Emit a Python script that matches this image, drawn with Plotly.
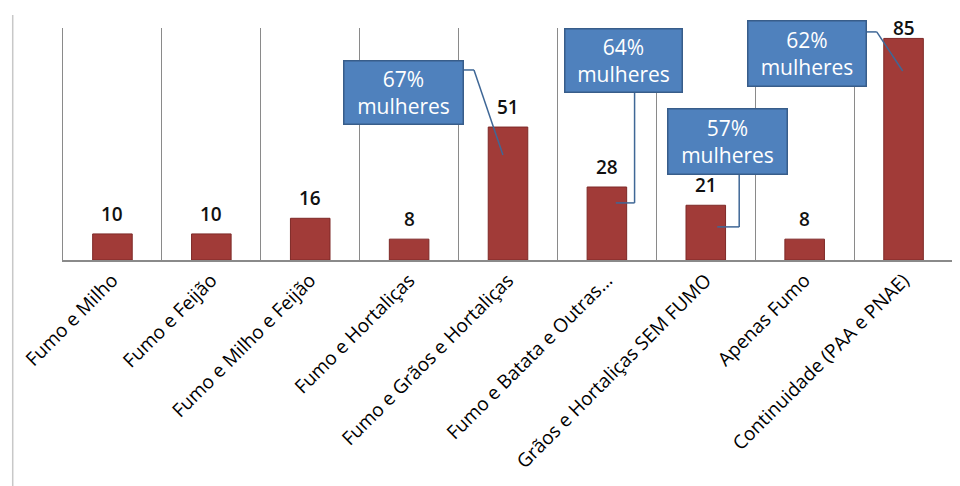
import plotly.graph_objects as go

categories = [
    "Fumo e Milho",
    "Fumo e Feijão",
    "Fumo e Milho e Feijão",
    "Fumo e Hortaliças",
    "Fumo e Grãos e Hortaliças",
    "Fumo e Batata e Outras...",
    "Grãos e Hortaliças SEM FUMO",
    "Apenas Fumo",
    "Continuidade (PAA e PNAE)",
]
values = [10, 10, 16, 8, 51, 28, 21, 8, 85]

# Callouts (data units: category serial number, value)
callout_text = ["67%<br>mulheres", "64%<br>mulheres", "57%<br>mulheres", "62%<br>mulheres"]
callout_box_x = [2.94, 5.17, 6.22, 7.02]
callout_box_y = [64.4, 76.7, 45.6, 79.4]
callout_box_w = [116, 114, 116, 115]
callout_box_h = [60, 60, 62, 62]
callout_leaders = [
    [(3.545, 72.9), (3.656, 72.9), (3.949, 40.3)],
    [(5.28, 64.4), (5.28, 21.9), (5.09, 21.9)],
    [(6.338, 33.0), (6.338, 12.7), (6.116, 12.7)],
    [(7.618, 87.5), (7.729, 87.5), (7.991, 72.5)],
]

FONT = "Open Sans"
GRID = "#8a8a8a"
Y_MAX = 89
PLOT_H = 232  # px

fig = go.Figure()
fig.add_trace(go.Bar(
    x=categories,
    y=values,
    marker=dict(color="#A13B38", line=dict(color="#7E2927", width=1)),
    width=0.4,
    hoverinfo="x+y",
))

annotations = []
px_per_unit = PLOT_H / Y_MAX
for c, v in zip(categories, values):
    headroom = (Y_MAX - v) * px_per_unit
    shift = min(5, headroom - 15)  # keep label inside the chart near the top
    annotations.append(dict(
        x=c, y=v, xref="x", yref="y", text=str(v), showarrow=False,
        yanchor="bottom", yshift=shift,
        font=dict(family=FONT, size=19, color="#111111", weight=600),
    ))

shapes = []
for pts in callout_leaders:
    for (x0, y0), (x1, y1) in zip(pts[:-1], pts[1:]):
        shapes.append(dict(type="line", xref="x", yref="y", x0=x0, y0=y0, x1=x1, y1=y1,
                           line=dict(color="#3F6796", width=1.5)))

for t, bx, by, w, h in zip(callout_text, callout_box_x, callout_box_y, callout_box_w, callout_box_h):
    annotations.append(dict(
        x=bx, y=by, xref="x", yref="y", text=t, showarrow=False,
        width=w, height=h, bgcolor="#4F81BD", bordercolor="#385D8A",
        borderwidth=1.5, borderpad=1, align="center", valign="middle",
        font=dict(family=FONT, size=21, color="white"),
    ))

# outer chart-area border on the left
shapes.append(dict(type="line", xref="paper", yref="paper", x0=-0.0565, x1=-0.0565,
                   y0=1.056, y1=-1.1, line=dict(color="#c8c8c8", width=1.5)))

fig.update_layout(
    width=960, height=486,
    margin=dict(l=53, r=15, t=20, b=234),
    paper_bgcolor="white", plot_bgcolor="white",
    showlegend=False,
    bargap=0.6,
    annotations=annotations,
    shapes=shapes,
    xaxis=dict(
        type="category",
        tickson="boundaries",
        showgrid=True, gridcolor=GRID, gridwidth=1,
        showline=True, linecolor=GRID, linewidth=1.5,
        ticks="", tickangle=-45,
        tickfont=dict(family=FONT, size=19, color="#000000"),
    ),
    yaxis=dict(
        range=[0, Y_MAX], showgrid=False, zeroline=False,
        showticklabels=False, ticks="",
        showline=True, mirror=True, linecolor=GRID, linewidth=1,
    ),
)

fig.write_html("out.html")
